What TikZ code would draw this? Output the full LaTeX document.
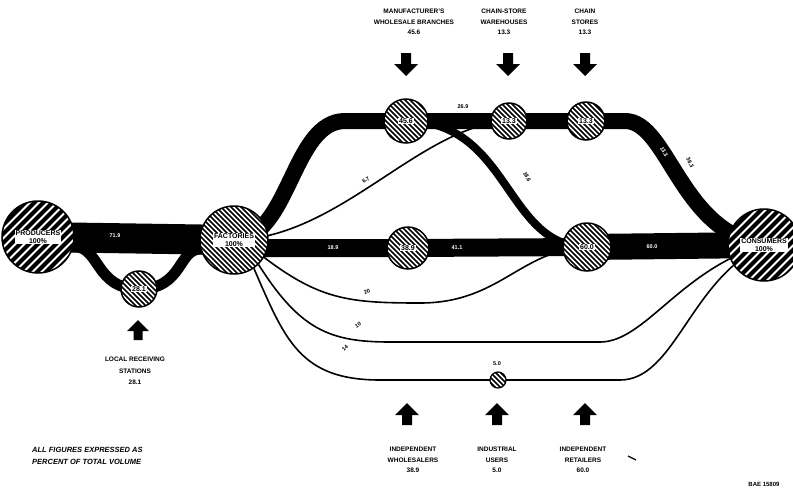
\documentclass[tikz,border=0pt]{standalone}
\usepackage{fontspec}
\setmainfont{Liberation Sans}
\usetikzlibrary{calc,backgrounds}
\tikzset{
  lbl/.style={font=\bfseries\fontsize{6.5}{10.5}\selectfont, align=center, inner sep=0},
  wlbl/.style={font=\bfseries\fontsize{5.5}{6}\selectfont, text=white, inner sep=0},
  blbl/.style={font=\bfseries\fontsize{5.5}{6}\selectfont, inner sep=0},
  band/.style={draw=black, line cap=butt},
  thinflow/.style={draw=black, line width=1.6pt},
  station/.style={circle, draw=black, line width=1.5pt, inner sep=0, fill=white},
  finehatch/.style={path picture={\foreach \k in {-90,-85,...,90}
      \draw[line width=1.7pt, shift={(path picture bounding box.center)}] (\k-50,-50) -- ++(100,100);}},
  coarsehatch/.style={path picture={\foreach \k in {-110,-101,...,110}
      \draw[line width=4pt, shift={(path picture bounding box.center)}] (\k-50,50) -- ++(100,-100);}},
  inlbl/.style={fill=white, font=\bfseries\fontsize{7}{8}\selectfont, align=center, inner sep=0.8pt},
  biglbl/.style={fill=white, font=\bfseries\fontsize{7}{8}\selectfont, align=center, inner sep=0.8pt},
  downarr/.pic={\fill (-5,0) -- (5,0) -- (5,11) -- (12,11) -- (0,23) -- (-12,11) -- (-5,11) -- cycle;},
  uparr/.pic={\fill (-5,0) -- (5,0) -- (5,-10) -- (12,-10) -- (0,-22) -- (-12,-10) -- (-5,-10) -- cycle;}
}
\begin{document}
\begin{tikzpicture}[x=1pt,y=-1pt]
\useasboundingbox (0,0) rectangle (793,488);
% circles
\node[station, coarsehatch, minimum size=72pt] (prod) at (38,237) {};
\node[station, finehatch, minimum size=68pt] (fact) at (234,240) {};
\node[station, finehatch, minimum size=36pt] (local) at (139,289) {};
\node[station, finehatch, minimum size=44pt] (manuf) at (406,121) {};
\node[station, finehatch, minimum size=36pt] (chw) at (509,121) {};
\node[station, finehatch, minimum size=38pt] (chs) at (586,121) {};
\node[station, finehatch, minimum size=42pt] (whol) at (408,248) {};
\node[station, finehatch, minimum size=48pt] (ret) at (587,247) {};
\node[station, coarsehatch, minimum size=72pt] (cons) at (764,245) {};
\node[station, finehatch, minimum size=16pt, line width=1.2pt] (ind) at (498,380) {};
% circle texts
\node[biglbl] (prodt) at (prod.center) {PRODUCERS\\100\%};
\node[biglbl] (factt) at (fact.center) {FACTORIES\\100\%};
\node[biglbl] (const) at (cons.center) {CONSUMERS\\100\%};
\node[inlbl] (localt) at (local.center) {28.1};
\node[inlbl] (manuft) at (manuf.center) {45.6};
\node[inlbl] (chwt) at (chw.center) {13.3};
\node[inlbl] (chst) at (chs.center) {13.3};
\node[inlbl] (wholt) at (whol.center) {38.9};
\node[inlbl] (rett) at (ret.center) {60.0};
% flows
\begin{scope}[on background layer]
  \draw[band, line width=30pt] (prod.center) -- (fact.center);
  \draw[band, line width=11pt] (prod.-15) .. controls (100,246) and (95,289) .. (local.center)
        .. controls (183,289) and (178,249) .. (fact.195);
  \draw[band, line width=16pt] (fact.center) .. controls (290,238) and (292,121) .. (345,121)
        -- (manuf.center) -- (chw.center) -- (chs.center) -- (625,121)
        .. controls (668,121) and (680,232) .. (cons.center);
  \draw[band, line width=8pt] (manuf.center) .. controls (510,121) and (505,247) .. (ret.center);
  \draw[thinflow] (fact.center) .. controls (340,238) and (420,125) .. (chw.center);
  \draw[band, line width=18pt] (fact.center |- whol.center) -- (whol.center) -- (ret.center);
  \draw[band, line width=26pt] (ret.center) -- (cons.center);
  \draw[thinflow] (fact.-30) .. controls (320,300) and (350,303) .. (420,303)
        .. controls (500,303) and (520,250) .. (ret.center);
  \draw[thinflow] (fact.-45) .. controls (300,330) and (330,342) .. (390,342) -- (600,342)
        .. controls (645,342) and (680,270) .. (cons.center);
  \draw[thinflow] (fact.-55) .. controls (285,340) and (300,380) .. (380,380) -- (ind.center)
        -- (620,380) .. controls (675,380) and (690,280) .. (cons.center);
\end{scope}
% flow labels
\node[wlbl] (l719) at (115,236) {71.9};
\node[wlbl, rotate=65] (l456) at (309,186) {45.6};
\node[blbl] (l269) at (463,107) {26.9};
\node[blbl, rotate=35] (l67) at (366,180) {6.7};
\node[blbl, rotate=-62] (l186) at (527,177) {18.6};
\node[wlbl, rotate=-62] (l133) at (664,152) {13.3};
\node[blbl, rotate=-65] (l383) at (690,163) {38.3};
\node[wlbl] (l189) at (333,248) {18.9};
\node[wlbl] (l411) at (457,248) {41.1};
\node[wlbl] (l600) at (652,247) {60.0};
\node[blbl, rotate=20] (l20) at (367,292) {20};
\node[blbl, rotate=30] (l10) at (358,325) {10};
\node[blbl, rotate=45] (l14) at (345,348) {14};
\node[blbl] (l50) at (497,364) {5.0};
% arrows
\pic (a1) at (406,53) {downarr};
\pic (a2) at (508,53) {downarr};
\pic (a3) at (585,53) {downarr};
\pic (a4) at (407,425) {uparr};
\pic (a5) at (497,425) {uparr};
\pic (a6) at (585,425) {uparr};
\pic[scale=0.9] (a7) at (138,340) {uparr};
% outside labels
\node[lbl] (tmanuf) at (414,22) {MANUFACTURER'S\\WHOLESALE BRANCHES\\45.6};
\node[lbl] (tchw) at (504,22) {CHAIN-STORE\\WAREHOUSES\\13.3};
\node[lbl] (tchs) at (585,22) {CHAIN\\STORES\\13.3};
\node[lbl] (twhol) at (413,460) {INDEPENDENT\\WHOLESALERS\\38.9};
\node[lbl] (tind) at (497,460) {INDUSTRIAL\\USERS\\5.0};
\node[lbl] (tret) at (583,460) {INDEPENDENT\\RETAILERS\\60.0};
\node[lbl, font=\bfseries\fontsize{6.5}{11.5}\selectfont] (tlocal) at (135,371) {LOCAL RECEIVING\\STATIONS\\28.1};
\node[lbl, anchor=west, align=left, font=\bfseries\itshape\fontsize{7.5}{12}\selectfont] (note) at (32,456) {ALL FIGURES EXPRESSED AS\\PERCENT OF TOTAL VOLUME};
\node[lbl, font=\bfseries\fontsize{6}{7}\selectfont] (bae) at (764,484) {BAE 15809};
\draw[line width=1.2pt] (628,456) -- (636,460);
\end{tikzpicture}
\end{document}
